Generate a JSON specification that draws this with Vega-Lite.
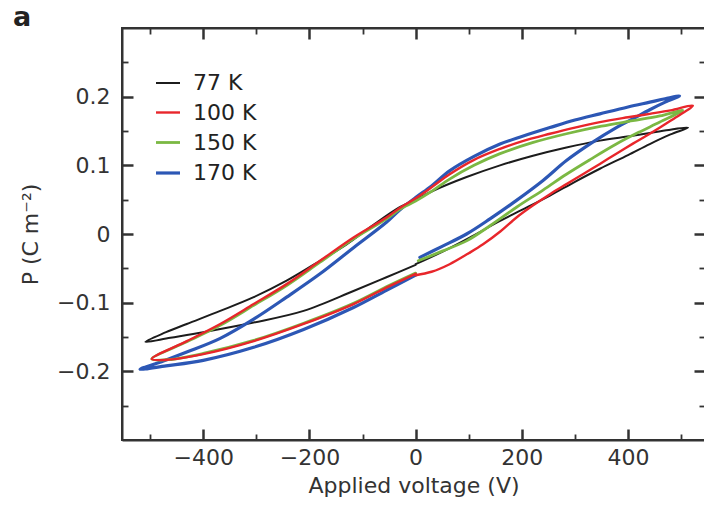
{
  "$schema": "https://vega.github.io/schema/vega-lite/v6.json",
  "width": 583,
  "height": 412,
  "autosize": "none",
  "padding": {"left": 122, "top": 28, "right": 0, "bottom": 69},
  "background": "white",
  "title": {"text": "a", "anchor": "start", "frame": "group", "font": "DejaVu Sans", "fontSize": 27, "fontWeight": "bold", "color": "#222", "baseline": "alphabetic", "offset": 0, "dx": -109, "dy": 26},
  "data": {"values": [
    {"T":"77 K","i":0,"V":0,"P":-0.044},{"T":"77 K","i":1,"V":50,"P":-0.026},{"T":"77 K","i":2,"V":100,"P":-0.006},{"T":"77 K","i":3,"V":159,"P":0.019},{"T":"77 K","i":4,"V":200,"P":0.035},{"T":"77 K","i":5,"V":253,"P":0.056},{"T":"77 K","i":6,"V":300,"P":0.076},{"T":"77 K","i":7,"V":347,"P":0.095},{"T":"77 K","i":8,"V":400,"P":0.115},{"T":"77 K","i":9,"V":441,"P":0.131},{"T":"77 K","i":10,"V":480,"P":0.145},{"T":"77 K","i":11,"V":513,"P":0.155},
    {"T":"77 K","i":12,"V":472,"P":0.151},{"T":"77 K","i":13,"V":409,"P":0.143},{"T":"77 K","i":14,"V":347,"P":0.136},{"T":"77 K","i":15,"V":284,"P":0.126},{"T":"77 K","i":16,"V":221,"P":0.114},{"T":"77 K","i":17,"V":159,"P":0.1},{"T":"77 K","i":18,"V":96,"P":0.083},{"T":"77 K","i":19,"V":33,"P":0.063},{"T":"77 K","i":20,"V":0,"P":0.05},{"T":"77 K","i":21,"V":-30,"P":0.039},{"T":"77 K","i":22,"V":-80,"P":0.013},{"T":"77 K","i":23,"V":-130,"P":-0.015},{"T":"77 K","i":24,"V":-180,"P":-0.039},{"T":"77 K","i":25,"V":-243,"P":-0.068},{"T":"77 K","i":26,"V":-305,"P":-0.092},{"T":"77 K","i":27,"V":-368,"P":-0.112},{"T":"77 K","i":28,"V":-431,"P":-0.131},{"T":"77 K","i":29,"V":-470,"P":-0.143},{"T":"77 K","i":30,"V":-509,"P":-0.157},
    {"T":"77 K","i":31,"V":-462,"P":-0.151},{"T":"77 K","i":32,"V":-400,"P":-0.143},{"T":"77 K","i":33,"V":-305,"P":-0.129},{"T":"77 K","i":34,"V":-211,"P":-0.112},{"T":"77 K","i":35,"V":-117,"P":-0.083},{"T":"77 K","i":36,"V":-55,"P":-0.063},{"T":"77 K","i":37,"V":0,"P":-0.045},

    {"T":"170 K","i":0,"V":8,"P":-0.034},{"T":"170 K","i":1,"V":50,"P":-0.018},{"T":"170 K","i":2,"V":96,"P":0.0},{"T":"170 K","i":3,"V":140,"P":0.022},{"T":"170 K","i":4,"V":190,"P":0.049},{"T":"170 K","i":5,"V":240,"P":0.078},{"T":"170 K","i":6,"V":284,"P":0.107},{"T":"170 K","i":7,"V":330,"P":0.132},{"T":"170 K","i":8,"V":378,"P":0.155},{"T":"170 K","i":9,"V":410,"P":0.168},{"T":"170 K","i":10,"V":441,"P":0.181},{"T":"170 K","i":11,"V":470,"P":0.192},{"T":"170 K","i":12,"V":497,"P":0.201},
    {"T":"170 K","i":13,"V":470,"P":0.197},{"T":"170 K","i":14,"V":441,"P":0.192},{"T":"170 K","i":15,"V":400,"P":0.185},{"T":"170 K","i":16,"V":347,"P":0.175},{"T":"170 K","i":17,"V":300,"P":0.166},{"T":"170 K","i":18,"V":253,"P":0.155},{"T":"170 K","i":19,"V":200,"P":0.142},{"T":"170 K","i":20,"V":159,"P":0.131},{"T":"170 K","i":21,"V":110,"P":0.113},{"T":"170 K","i":22,"V":64,"P":0.092},{"T":"170 K","i":23,"V":30,"P":0.07},{"T":"170 K","i":24,"V":0,"P":0.053},{"T":"170 K","i":25,"V":-30,"P":0.035},{"T":"170 K","i":26,"V":-55,"P":0.017},{"T":"170 K","i":27,"V":-117,"P":-0.02},{"T":"170 K","i":28,"V":-180,"P":-0.058},{"T":"170 K","i":29,"V":-243,"P":-0.092},{"T":"170 K","i":30,"V":-305,"P":-0.124},{"T":"170 K","i":31,"V":-368,"P":-0.152},{"T":"170 K","i":32,"V":-431,"P":-0.172},{"T":"170 K","i":33,"V":-475,"P":-0.185},{"T":"170 K","i":34,"V":-519,"P":-0.197},
    {"T":"170 K","i":35,"V":-470,"P":-0.192},{"T":"170 K","i":36,"V":-400,"P":-0.184},{"T":"170 K","i":37,"V":-305,"P":-0.165},{"T":"170 K","i":38,"V":-211,"P":-0.139},{"T":"170 K","i":39,"V":-117,"P":-0.107},{"T":"170 K","i":40,"V":-55,"P":-0.082},{"T":"170 K","i":41,"V":0,"P":-0.06},

    {"T":"150 K","i":0,"V":5,"P":-0.039},{"T":"150 K","i":1,"V":50,"P":-0.025},{"T":"150 K","i":2,"V":96,"P":-0.01},{"T":"150 K","i":3,"V":140,"P":0.012},{"T":"150 K","i":4,"V":190,"P":0.039},{"T":"150 K","i":5,"V":240,"P":0.064},{"T":"150 K","i":6,"V":284,"P":0.087},{"T":"150 K","i":7,"V":330,"P":0.109},{"T":"150 K","i":8,"V":378,"P":0.131},{"T":"150 K","i":9,"V":420,"P":0.148},{"T":"150 K","i":10,"V":460,"P":0.163},{"T":"150 K","i":11,"V":503,"P":0.18},
    {"T":"150 K","i":12,"V":460,"P":0.172},{"T":"150 K","i":13,"V":409,"P":0.165},{"T":"150 K","i":14,"V":350,"P":0.157},{"T":"150 K","i":15,"V":284,"P":0.146},{"T":"150 K","i":16,"V":220,"P":0.133},{"T":"150 K","i":17,"V":159,"P":0.117},{"T":"150 K","i":18,"V":110,"P":0.1},{"T":"150 K","i":19,"V":64,"P":0.08},{"T":"150 K","i":20,"V":30,"P":0.062},{"T":"150 K","i":21,"V":0,"P":0.048},{"T":"150 K","i":22,"V":-30,"P":0.036},{"T":"150 K","i":23,"V":-55,"P":0.022},{"T":"150 K","i":24,"V":-117,"P":-0.007},{"T":"150 K","i":25,"V":-180,"P":-0.041},{"T":"150 K","i":26,"V":-243,"P":-0.075},{"T":"150 K","i":27,"V":-305,"P":-0.104},{"T":"150 K","i":28,"V":-368,"P":-0.133},{"T":"150 K","i":29,"V":-431,"P":-0.157},{"T":"150 K","i":30,"V":-497,"P":-0.182},
    {"T":"150 K","i":31,"V":-465,"P":-0.183},{"T":"150 K","i":32,"V":-400,"P":-0.174},{"T":"150 K","i":33,"V":-305,"P":-0.155},{"T":"150 K","i":34,"V":-211,"P":-0.13},{"T":"150 K","i":35,"V":-117,"P":-0.101},{"T":"150 K","i":36,"V":-55,"P":-0.077},{"T":"150 K","i":37,"V":0,"P":-0.057},

    {"T":"100 K","i":0,"V":0,"P":-0.06},{"T":"100 K","i":1,"V":30,"P":-0.055},{"T":"100 K","i":2,"V":64,"P":-0.044},{"T":"100 K","i":3,"V":100,"P":-0.028},{"T":"100 K","i":4,"V":127,"P":-0.015},{"T":"100 K","i":5,"V":160,"P":0.004},{"T":"100 K","i":6,"V":190,"P":0.024},{"T":"100 K","i":7,"V":220,"P":0.041},{"T":"100 K","i":8,"V":253,"P":0.058},{"T":"100 K","i":9,"V":285,"P":0.073},{"T":"100 K","i":10,"V":315,"P":0.087},{"T":"100 K","i":11,"V":347,"P":0.102},{"T":"100 K","i":12,"V":378,"P":0.117},{"T":"100 K","i":13,"V":410,"P":0.132},{"T":"100 K","i":14,"V":441,"P":0.146},{"T":"100 K","i":15,"V":480,"P":0.165},{"T":"100 K","i":16,"V":522,"P":0.187},
    {"T":"100 K","i":17,"V":480,"P":0.18},{"T":"100 K","i":18,"V":441,"P":0.175},{"T":"100 K","i":19,"V":400,"P":0.17},{"T":"100 K","i":20,"V":347,"P":0.163},{"T":"100 K","i":21,"V":300,"P":0.155},{"T":"100 K","i":22,"V":253,"P":0.146},{"T":"100 K","i":23,"V":200,"P":0.135},{"T":"100 K","i":24,"V":159,"P":0.124},{"T":"100 K","i":25,"V":110,"P":0.108},{"T":"100 K","i":26,"V":64,"P":0.087},{"T":"100 K","i":27,"V":30,"P":0.068},{"T":"100 K","i":28,"V":0,"P":0.052},{"T":"100 K","i":29,"V":-30,"P":0.038},{"T":"100 K","i":30,"V":-55,"P":0.024},{"T":"100 K","i":31,"V":-117,"P":-0.005},{"T":"100 K","i":32,"V":-180,"P":-0.039},{"T":"100 K","i":33,"V":-243,"P":-0.073},{"T":"100 K","i":34,"V":-305,"P":-0.102},{"T":"100 K","i":35,"V":-368,"P":-0.131},{"T":"100 K","i":36,"V":-431,"P":-0.156},{"T":"100 K","i":37,"V":-497,"P":-0.182},
    {"T":"100 K","i":38,"V":-465,"P":-0.183},{"T":"100 K","i":39,"V":-400,"P":-0.175},{"T":"100 K","i":40,"V":-305,"P":-0.156},{"T":"100 K","i":41,"V":-211,"P":-0.131},{"T":"100 K","i":42,"V":-117,"P":-0.102},{"T":"100 K","i":43,"V":-55,"P":-0.078},{"T":"100 K","i":44,"V":0,"P":-0.058}
  ]},
  "layer": [
    {
      "mark": {"type": "line", "interpolate": "catmull-rom", "strokeCap": "round", "strokeJoin": "round"},
      "encoding": {
        "x": {"field": "V", "type": "quantitative", "scale": {"domain": [-553, 545], "nice": false, "zero": false},
          "axis": {"orient": "bottom", "values": [-500,-400,-300,-200,-100,0,100,200,300,400,500],
            "labelExpr": "datum.value % 200 === 0 ? format(datum.value, 'd') : ''",
            "tickSize": {"condition": {"test": "datum.value % 200 === 0", "value": -11}, "value": -6},
            "tickWidth": {"condition": {"test": "datum.value % 200 === 0", "value": 2.5}, "value": 1.8},
            "labelPadding": 18, "title": "Applied voltage (V)", "titlePadding": 7}},
        "y": {"field": "P", "type": "quantitative", "scale": {"domain": [-0.3, 0.3], "nice": false, "zero": false},
          "axis": {"orient": "left", "values": [-0.25,-0.2,-0.15,-0.1,-0.05,0,0.05,0.1,0.15,0.2,0.25],
            "labelExpr": "abs(round(datum.value * 100)) % 10 === 0 ? format(datum.value, '.1~f') : ''",
            "tickSize": {"condition": {"test": "abs(round(datum.value * 100)) % 10 === 0", "value": -11}, "value": -6},
            "tickWidth": {"condition": {"test": "abs(round(datum.value * 100)) % 10 === 0", "value": 2.5}, "value": 1.8},
            "labelPadding": 23, "title": "P (C m⁻²)", "titlePadding": 14}},
        "color": {"field": "T", "type": "nominal",
          "scale": {"domain": ["77 K", "100 K", "150 K", "170 K"], "range": ["#1c1c1c", "#e8262b", "#7bb843", "#2c57b5"]},
          "legend": {"orient": "none", "legendX": 32, "legendY": 42, "title": null, "symbolType": "stroke", "symbolSize": 576, "symbolStrokeWidth": 4, "labelFont": "DejaVu Sans", "labelFontSize": 22, "labelColor": "#222", "rowPadding": 5, "labelOffset": 11, "padding": 0}},
        "strokeWidth": {"field": "T", "type": "nominal", "scale": {"domain": ["77 K", "100 K", "150 K", "170 K"], "range": [2, 3.2, 2.6, 2]}, "legend": null},
        "order": {"field": "i", "type": "quantitative"}
      }
    },
    {
      "mark": {"type": "line", "strokeOpacity": 0},
      "encoding": {
        "x": {"field": "V", "type": "quantitative",
          "axis": {"orient": "top", "values": [-500,-400,-300,-200,-100,0,100,200,300,400,500], "labels": false, "title": null,
            "tickSize": {"condition": {"test": "datum.value % 200 === 0", "value": -11}, "value": -6},
            "tickWidth": {"condition": {"test": "datum.value % 200 === 0", "value": 2.5}, "value": 1.8}}},
        "y": {"field": "P", "type": "quantitative",
          "axis": {"orient": "right", "values": [-0.25,-0.2,-0.15,-0.1,-0.05,0,0.05,0.1,0.15,0.2,0.25], "labels": false, "title": null,
            "tickSize": {"condition": {"test": "abs(round(datum.value * 100)) % 10 === 0", "value": -11}, "value": -6},
            "tickWidth": {"condition": {"test": "abs(round(datum.value * 100)) % 10 === 0", "value": 2.5}, "value": 1.8}}},
        "detail": {"field": "T", "type": "nominal"},
        "order": {"field": "i", "type": "quantitative"}
      }
    }
  ],
  "resolve": {"axis": {"x": "independent", "y": "independent"}},
  "config": {
    "view": {"stroke": "#333", "strokeWidth": 2},
    "axis": {"grid": false, "domainColor": "#333", "domainWidth": 2, "tickColor": "#333",
      "labelFont": "DejaVu Sans", "labelFontSize": 22, "labelColor": "#333",
      "titleFont": "DejaVu Sans", "titleFontSize": 22, "titleFontWeight": "normal", "titleColor": "#333"}
  }
}
